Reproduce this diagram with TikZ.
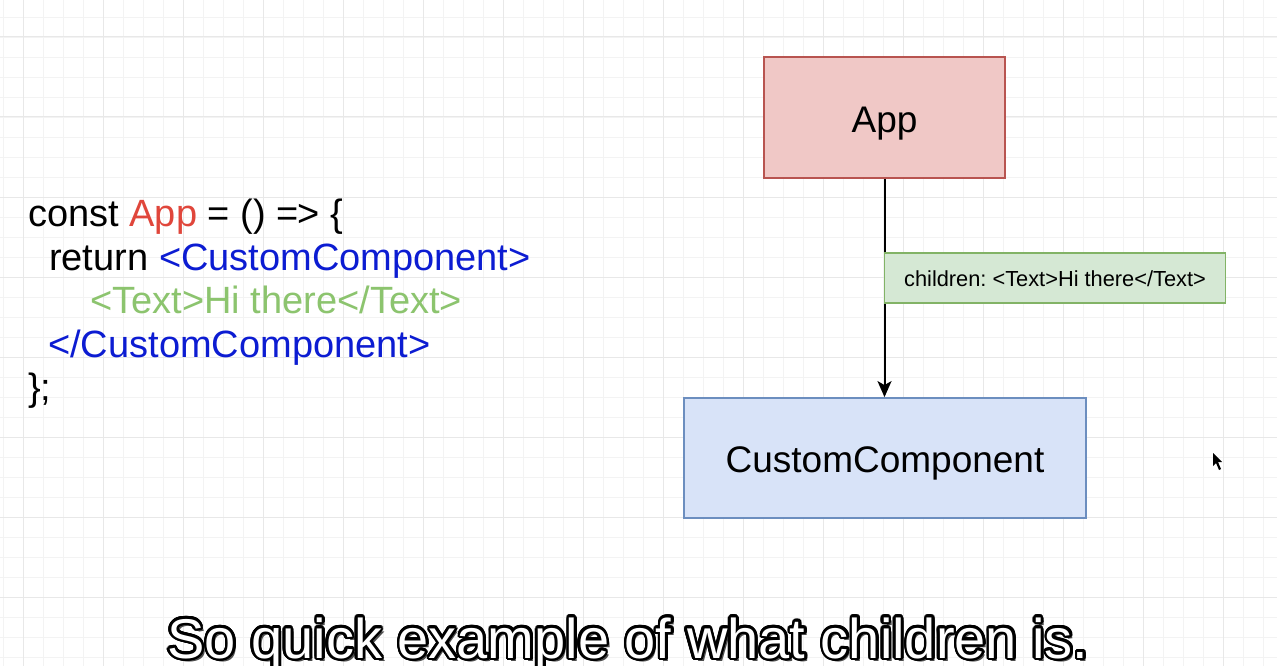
\documentclass[tikz,border=0pt]{standalone}
\usepackage{fontspec}
\setmainfont{Liberation Sans}
\usetikzlibrary{arrows.meta,calc}
\definecolor{gridminor}{HTML}{F3F3F3}
\definecolor{gridmajor}{HTML}{E8E8E8}
\definecolor{appfill}{HTML}{F0C8C6}
\definecolor{appline}{HTML}{B85450}
\definecolor{ccfill}{HTML}{D8E3F8}
\definecolor{ccline}{HTML}{6C8EBF}
\definecolor{lblfill}{HTML}{D5E8D4}
\definecolor{lblline}{HTML}{82B366}
\definecolor{codered}{HTML}{E0463B}
\definecolor{codeblue}{HTML}{0C1CD2}
\definecolor{codegreen}{HTML}{8CC46E}
\frenchspacing
\tikzset{
  box/.style={draw, line width=1.8pt, minimum width=#1, inner sep=0pt, text depth=0pt, font=\fontsize{37}{40}\selectfont},
  codeline/.style={anchor=base west, inner sep=0pt, font=\fontsize{38}{44}\selectfont},
  subtxt/.style={anchor=base, inner sep=0pt, font=\fontsize{56}{60}\selectfont},
}
\begin{document}
\begin{tikzpicture}[x=1pt,y=-1pt]
\useasboundingbox (0,0) rectangle (1277,666);
\fill[white] (0,0) rectangle (1277,666);
% grid
\foreach \x in {3,23,...,1277} \draw[gridminor, line width=0.8pt] (\x,0) -- (\x,666);
\foreach \y in {17,37,...,666} \draw[gridminor, line width=0.8pt] (0,\y) -- (1277,\y);
\foreach \x in {23,103,...,1277} \draw[gridmajor, line width=1pt] (\x,0) -- (\x,666);
\foreach \y in {37,117,...,666} \draw[gridmajor, line width=1pt] (0,\y) -- (1277,\y);

% code
\node[codeline] (l1) at (28,226) {const \textcolor{codered}{App} = () =\kern-1pt> \{};
\node[codeline] (l2) at (49,270) {return \textcolor{codeblue}{<CustomComponent>}};
\node[codeline, text=codegreen] (l3) at (90,313) {<Text>Hi there</Text>};
\node[codeline, text=codeblue] (l4) at (48,357) {</CustomComponent>};
\node[codeline] (l5) at (28,400) {\};};

% boxes
\node[box=241pt, minimum height=121pt, fill=appfill, draw=appline] (app) at (884.5,117.5) {\raisebox{-5pt}{App}};
\node[box=402pt, minimum height=120pt, fill=ccfill, draw=ccline] (cc) at (885,458) {\raisebox{-3pt}{CustomComponent}};
\draw[line width=2pt, -{Stealth[length=16pt,width=14pt,inset=4pt]}] (app.south) -- (app.south |- cc.north);
\node[draw=lblline, fill=lblfill, line width=1.8pt, minimum width=341pt, minimum height=50pt, inner sep=0pt, text depth=0pt, font=\fontsize{21.8}{24}\selectfont] (lbl) at (1055,278) {\raisebox{-1pt}{children: <Text>Hi there</Text>}};

% mouse cursor
\fill[black] (1213,453) -- (1213,466) -- (1216,463) -- (1219,470) -- (1221,469) -- (1218,462) -- (1222,462) -- cycle;

% subtitle
\coordinate (subpos) at (628,658);
\node[subtxt, text=black!70] (subsh) at ($(subpos)+(3,3)$) {So quick example of what children is.};
\foreach \a in {0,15,...,345}
  \node[subtxt, text=black] (subo\a) at ($(subpos)+(\a:2.6)$) {So quick example of what children is.};
\node[subtxt, text=white] (sub) at (subpos) {So quick example of what children is.};
\end{tikzpicture}
\end{document}
